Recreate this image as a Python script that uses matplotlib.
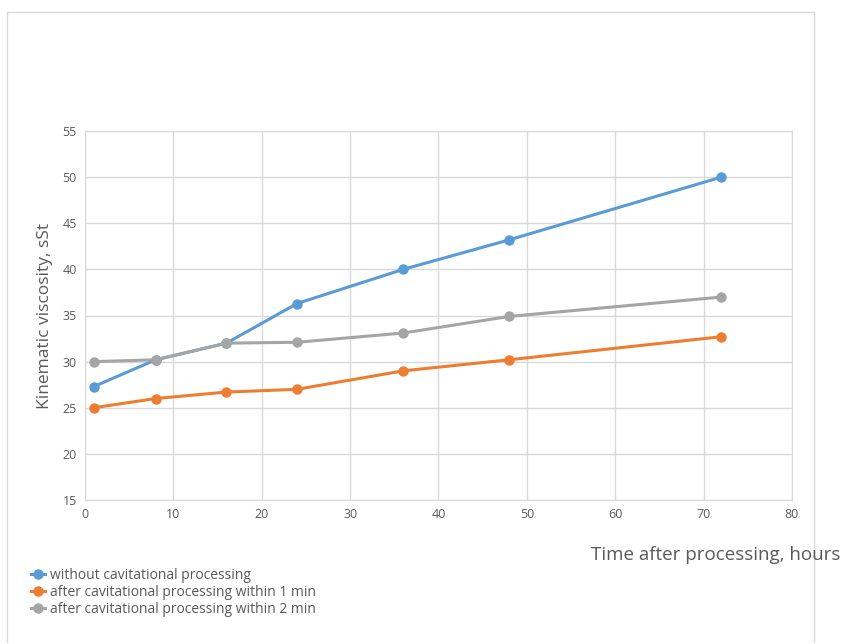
import matplotlib
matplotlib.use("Agg")
import matplotlib.pyplot as plt
from matplotlib.lines import Line2D

plt.rcParams['font.family'] = ['Open Sans', 'DejaVu Sans']

# ── data ──────────────────────────────────────────────────────────────────────
hours = [1, 8, 16, 24, 36, 48, 72]
no_processing = [27.3, 30.2, 32.0, 36.3, 40.0, 43.2, 50.0]
processing_1min = [25.0, 26.0, 26.7, 27.0, 29.0, 30.2, 32.7]
processing_2min = [30.0, 30.2, 32.0, 32.1, 33.1, 34.9, 37.0]

series_labels = [
    "without cavitational processing",
    "after cavitational processing within 1 min",
    "after cavitational processing within 2 min",
]
colors = ['#5B9BD5', '#ED7D31', '#A5A5A5']
x_ticks = [0, 10, 20, 30, 40, 50, 60, 70, 80]
y_ticks = [15, 20, 25, 30, 35, 40, 45, 50, 55]

text_gray = '#595959'
grid_gray = '#D9D9D9'

fig = plt.figure(figsize=(8.45, 6.44), dpi=100)
ax = fig.add_axes([85 / 845, 1 - 500 / 644, (792 - 85) / 845, (500 - 131) / 644])

for ys, c, lab in zip([no_processing, processing_1min, processing_2min], colors, series_labels):
    ax.plot(hours, ys, color=c, lw=2.2, marker='o', ms=6.5, label=lab,
            solid_capstyle='round', zorder=3)

ax.set_xlim(0, 80)
ax.set_ylim(15, 55)
ax.set_xticks(x_ticks)
ax.set_yticks(y_ticks)
ax.grid(True, color=grid_gray, lw=1)
ax.set_axisbelow(True)
for sp in ax.spines.values():
    sp.set_color(grid_gray)
ax.tick_params(length=0, labelsize=9, colors=text_gray, pad=6)

ax.set_ylabel("Kinematic viscosity, sSt", fontsize=12.5, color=text_gray, labelpad=7)
fig.text(840 / 845, 1 - 555 / 644, "Time after processing, hours", fontsize=13.5,
         color=text_gray, ha='right', va='center')

# legend in the lower left corner
handles = [Line2D([0], [0], color=c, lw=2.2, marker='o', ms=6.5) for c in colors]
fig.legend(handles, series_labels, loc='upper left',
           bbox_to_anchor=(24 / 845, 1 - 561 / 644), frameon=False,
           fontsize=10, labelcolor=text_gray, handlelength=1.0,
           handletextpad=0.35, labelspacing=0.15, borderpad=0)

# outer chart frame (left, top, right edges)
fl, ft, fr = 7.5 / 845, 1 - 12 / 644, 814 / 845
fig.add_artist(Line2D([fl, fl, fr, fr], [0.003, ft, ft, 0.003], color='#D9D9D9',
                      lw=1, transform=fig.transFigure))

fig.savefig("out.png", dpi=100)
